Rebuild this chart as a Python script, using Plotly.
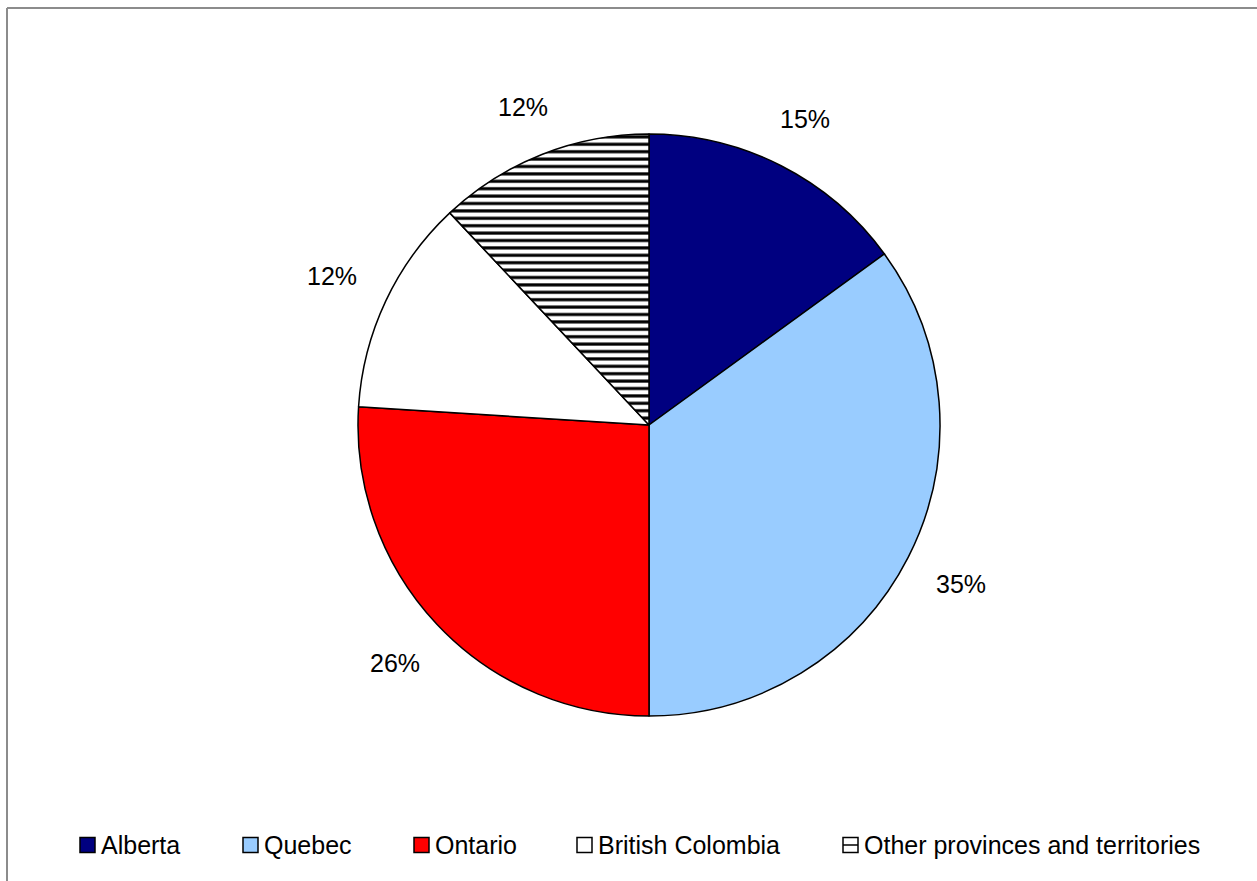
import math
import plotly.graph_objects as go

# Share of total by province / territory group
regions = ["Alberta", "Quebec", "Ontario", "British Colombia", "Other provinces and territories"]
shares = [15, 35, 26, 12, 12]
colors = ["#000080", "#99CCFF", "#FF0000", "#FFFFFF", "#FFFFFF"]
patterns = ["", "", "", "", "-"]

W, H = 1257, 881
CX, CY, R = 649, 425, 291          # pie centre and radius in pixels
FONT = "Arial, Liberation Sans, sans-serif"
FS = 25


def px(x):
    return x / W


def py(y):
    return 1 - y / H


fig = go.Figure(
    go.Pie(
        labels=regions,
        values=shares,
        sort=False,
        direction="clockwise",
        rotation=0,
        textinfo="none",
        hoverinfo="label+percent",
        showlegend=False,
        marker=dict(
            colors=colors,
            line=dict(color="#000000", width=1.5),
            pattern=dict(shape=patterns, fgcolor="#000000", bgcolor="#FFFFFF",
                         size=7.4, solidity=0.42, fillmode="replace"),
        ),
        domain=dict(x=[px(CX - R), px(CX + R)], y=[py(CY + R), py(CY - R)]),
    )
)

# Percentage labels outside each slice, placed along the slice mid-angle
annotations = []
total = sum(shares)
cum = 0.0
gap = 33
hw, hh = 24, 10
for v in shares:
    mid = (cum + v / 2) / total * 2 * math.pi
    cum += v
    s, c = math.sin(mid), math.cos(mid)
    dist = R + gap + hw * abs(s) + hh * abs(c)
    x = CX + dist * s
    y = CY - dist * c
    annotations.append(dict(
        x=px(x), y=py(y), xref="paper", yref="paper",
        text=f"{round(v / total * 100)}%", showarrow=False,
        xanchor="center", yanchor="middle",
        font=dict(family=FONT, size=FS, color="#000000"),
    ))

# Legend drawn along the bottom
shapes = []
legend_x = [80, 243, 414, 577, 843]
SQ = 15
LY = 845
for name, col, pat, lx in zip(regions, colors, patterns, legend_x):
    shapes.append(dict(type="rect", xref="paper", yref="paper",
                       x0=px(lx), x1=px(lx + SQ), y0=py(LY + SQ / 2), y1=py(LY - SQ / 2),
                       fillcolor=col, line=dict(color="#000000", width=1.5)))
    if pat == "-":
        shapes.append(dict(type="line", xref="paper", yref="paper",
                           x0=px(lx), x1=px(lx + SQ), y0=py(LY), y1=py(LY),
                           line=dict(color="#000000", width=1.5)))
    annotations.append(dict(
        x=px(lx + SQ + 4), y=py(LY), xref="paper", yref="paper",
        text=name, showarrow=False, xanchor="left", yanchor="middle",
        font=dict(family=FONT, size=FS, color="#000000"),
    ))

# Chart frame (top and left edges)
shapes.append(dict(type="line", xref="paper", yref="paper",
                   x0=px(7), x1=1, y0=py(8), y1=py(8),
                   line=dict(color="#8C8C8C", width=2)))
shapes.append(dict(type="line", xref="paper", yref="paper",
                   x0=px(7), x1=px(7), y0=py(8), y1=0,
                   line=dict(color="#8C8C8C", width=2)))

fig.update_layout(
    width=W, height=H,
    margin=dict(l=0, r=0, t=0, b=0),
    paper_bgcolor="#FFFFFF",
    plot_bgcolor="#FFFFFF",
    annotations=annotations,
    shapes=shapes,
)

fig.write_html("out.html")
